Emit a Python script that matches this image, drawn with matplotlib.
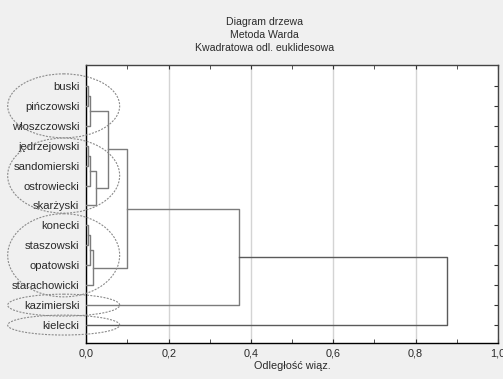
import matplotlib.pyplot as plt
from matplotlib.patches import Ellipse
from matplotlib.ticker import MultipleLocator, FuncFormatter

# leaves from top to bottom
leaves = ['buski', 'pińczowski', 'włoszczowski', 'jędrzejowski', 'sandomierski',
          'ostrowiecki', 'skarżyski', 'konecki', 'staszowski', 'opatowski',
          'starachowicki', 'kazimierski', 'kielecki']

# merges: (cluster a, cluster b, linkage distance); new clusters get ids 13, 14, ...
merge_a = [0, 13, 3, 15, 16, 14, 7, 19, 20, 18, 22, 23]
merge_b = [1, 2, 4, 5, 6, 17, 8, 9, 10, 21, 11, 12]
merge_dist = [0.004, 0.009, 0.004, 0.009, 0.0236, 0.052, 0.004, 0.009, 0.0155, 0.098, 0.372, 0.875]

# circled groups (first leaf, last leaf)
groups = [(0, 2), (3, 6), (7, 10), (11, 11), (12, 12)]

plt.rcParams['font.family'] = ['Liberation Sans', 'DejaVu Sans']

fig = plt.figure(figsize=(5.03, 3.79), dpi=100, facecolor='#f0f0f0')
ax = fig.add_axes([0.1716, 0.095, 0.8184, 0.7335])
ax.set_facecolor('white')

# positions of clusters
ypos = {i: i + 1 for i in range(len(leaves))}
hpos = {i: 0.0 for i in range(len(leaves))}
line_col = '#7c7c7c'
for k, (a, b, d) in enumerate(zip(merge_a, merge_b, merge_dist)):
    cid = len(leaves) + k
    col = '#5a5a5a' if k == len(merge_dist) - 1 else line_col
    ax.plot([hpos[a], d, d, hpos[b]], [ypos[a], ypos[a], ypos[b], ypos[b]],
            color=col, lw=1.0, zorder=3)
    ypos[cid] = (ypos[a] + ypos[b]) / 2
    hpos[cid] = d

# dashed ellipses around groups
ell_h = [3.21, 3.77, 4.17, 1.10, 1.0]
for (g0, g1), h in zip(groups, ell_h):
    yc = (g0 + g1) / 2 + 1
    e = Ellipse((-0.055, yc), 0.272, h, fill=False, ls=(0, (1.8, 1.2)),
                ec='#8a8a8a', lw=0.8, clip_on=False, zorder=4)
    ax.add_patch(e)

ax.set_xlim(0, 1.0)
ax.set_ylim(13.9, -0.05)
ax.set_yticks(range(1, len(leaves) + 1))
ax.set_yticklabels(leaves, fontsize=8.1, color='#2a2a2a')
ax.tick_params(axis='y', left=False, right=True, direction='in', length=3,
               pad=5, color='#333333')

ax.xaxis.set_major_locator(MultipleLocator(0.2))
ax.xaxis.set_minor_locator(MultipleLocator(0.1))
ax.xaxis.set_major_formatter(FuncFormatter(lambda v, p: f'{v:.1f}'.replace('.', ',')))
ax.tick_params(axis='x', which='both', top=True, direction='in', length=3,
               labelsize=7.8, pad=4, color='#333333', labelcolor='#2a2a2a')
ax.grid(axis='x', color='#d4d4d4', lw=1.0, zorder=0)

for s in ax.spines.values():
    s.set_linewidth(1.0)
ax.spines['top'].set_color('#444444')
ax.spines['right'].set_color('#444444')

ax.set_xlabel('Odległość wiąz.', fontsize=7.8, color='#2a2a2a', labelpad=2)

fig.text(0.525, 1 - 22 / 379, 'Diagram drzewa', ha='center', va='center', fontsize=7.6, color='#2a2a2a')
fig.text(0.525, 1 - 35 / 379, 'Metoda Warda', ha='center', va='center', fontsize=7.6, color='#2a2a2a')
fig.text(0.525, 1 - 48 / 379, 'Kwadratowa odl. euklidesowa', ha='center', va='center', fontsize=7.6, color='#2a2a2a')

fig.savefig('out.png', dpi=100, facecolor=fig.get_facecolor())
